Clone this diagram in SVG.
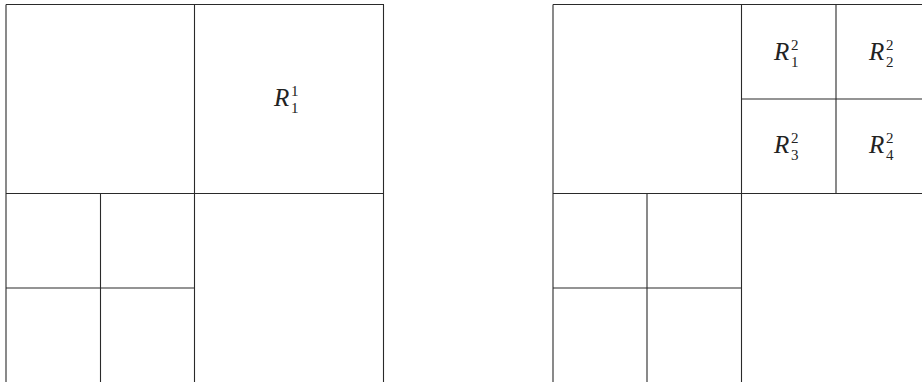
<svg xmlns="http://www.w3.org/2000/svg" width="922" height="382" viewBox="0 0 922 382">
<style>
.ln{stroke:#2a2a2a;stroke-width:1.1;fill:none}
text{font-family:'Liberation Serif','Times New Roman',serif;fill:#222}
.R{font-style:italic;font-size:25px}
.s{font-size:15px}
</style>
<rect width="922" height="382" fill="#fff"/>
<g id="connectors">
<g id="left-grid">
<path class="ln" d="M6 4.5H384M6 4.5V382M194.5 4.5V382M383.5 4.5V382M6 193.5H384M100.5 193.5V382M6 288H194.5"/>
</g>
<g id="right-grid">
<path class="ln" d="M553 4.5H922M553 4.5V382M741.5 4.5V382M836 4.5V193.5M741.5 99H922M553 193.5H922M647 193.5V382M553 288H741.5"/>
</g>
</g>
<g id="R11">
<text class="R" x="274" y="106">R</text><text class="s" x="291" y="96">1</text><text class="s" x="291" y="113">1</text>
</g>
<g id="R12">
<text class="R" x="774" y="60">R</text><text class="s" x="791" y="50">2</text><text class="s" x="791" y="67">1</text>
</g>
<g id="R22">
<text class="R" x="869" y="60">R</text><text class="s" x="886" y="50">2</text><text class="s" x="886" y="67">2</text>
</g>
<g id="R32">
<text class="R" x="774" y="153">R</text><text class="s" x="791" y="143">2</text><text class="s" x="791" y="160">3</text>
</g>
<g id="R42">
<text class="R" x="869" y="153">R</text><text class="s" x="886" y="143">2</text><text class="s" x="886" y="160">4</text>
</g>
</svg>
